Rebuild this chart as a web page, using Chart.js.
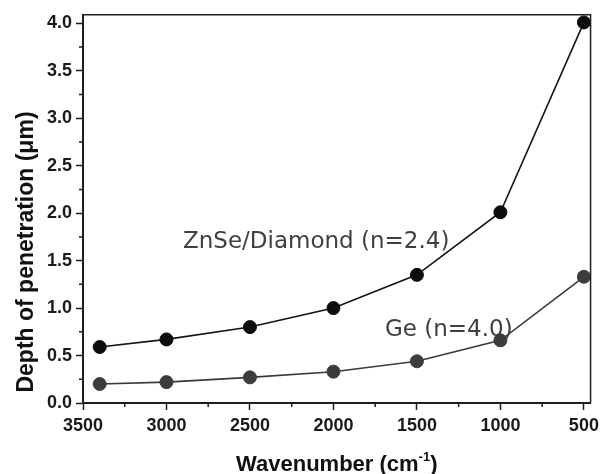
<!DOCTYPE html>
<html>
<head>
<meta charset="UTF-8">
<title>Depth of penetration</title>
<script src="https://cdn.jsdelivr.net/npm/chart.js"></script>
<style>
  html, body { margin: 0; padding: 0; background: #fff; }
  canvas { display: block; }
</style>
</head>
<body>
<canvas id="chart" width="604" height="474"></canvas>
<script>
  // values
  const wavenumbers = [3400, 3000, 2500, 2000, 1500, 1000, 500];
  const znseDepth = [0.59, 0.67, 0.80, 1.00, 1.35, 2.01, 4.01];
  const geDepth = [0.20, 0.22, 0.27, 0.33, 0.44, 0.66, 1.33];
  const seriesNames = ["ZnSe/Diamond (n=2.4)", "Ge (n=4.0)"];

  const xTicks = [3500, 3000, 2500, 2000, 1500, 1000, 500];
  const xMinorTicks = [3250, 2750, 2250, 1750, 1250, 750];
  const yTicks = [0, 0.5, 1, 1.5, 2, 2.5, 3, 3.5, 4];
  const yMinorTicks = [0.25, 0.75, 1.25, 1.75, 2.25, 2.75, 3.25, 3.75];

  const xTitle = "Wavenumber (cm";
  const yTitle = "Depth of penetration (\u03BCm)";

  const axisColor = "#1e1e1e";
  const tickFont = { family: "'Liberation Sans', Arial, sans-serif", size: 18, weight: "bold" };

  // frame, minor ticks, series labels and axis titles
  const decorations = {
    id: "decorations",
    beforeDatasetsDraw(chart) {
      const ctx = chart.ctx;
      ctx.save();
      ctx.fillStyle = "#404040";
      ctx.font = "23px 'DejaVu Sans'";
      ctx.textBaseline = "middle";
      ctx.textAlign = "left";
      ctx.fillText(seriesNames[0], 183, 242);
      ctx.fillText(seriesNames[1], 385, 330);
      ctx.restore();
    },
    afterDraw(chart) {
      const { ctx, chartArea: a, scales: { x, y } } = chart;
      ctx.save();
      ctx.strokeStyle = axisColor;
      ctx.lineWidth = 1.5;
      ctx.beginPath();
      ctx.moveTo(a.left, a.top);
      ctx.lineTo(a.right, a.top);
      ctx.lineTo(a.right, a.bottom);
      ctx.stroke();

      ctx.beginPath();
      xMinorTicks.forEach(v => {
        const px = x.getPixelForValue(v);
        ctx.moveTo(px, a.bottom);
        ctx.lineTo(px, a.bottom + 4);
      });
      yMinorTicks.forEach(v => {
        const py = y.getPixelForValue(v);
        ctx.moveTo(a.left, py);
        ctx.lineTo(a.left - 4, py);
      });
      ctx.stroke();

      ctx.fillStyle = "#111";
      // y title
      ctx.save();
      ctx.translate(33, 252);
      ctx.rotate(-Math.PI / 2);
      ctx.font = "bold 23px 'Liberation Sans', Arial, sans-serif";
      ctx.textAlign = "center";
      ctx.textBaseline = "alphabetic";
      ctx.fillText(yTitle, 0, 0);
      ctx.restore();

      // x title with superscript
      const mainFont = "bold 22px 'Liberation Sans', Arial, sans-serif";
      const supFont = "bold 13px 'Liberation Sans', Arial, sans-serif";
      ctx.font = mainFont;
      const w1 = ctx.measureText(xTitle).width;
      const w3 = ctx.measureText(")").width;
      ctx.font = supFont;
      const w2 = ctx.measureText("-1").width;
      const total = w1 + w2 + w3;
      let cx = (a.left + a.right) / 2 - total / 2;
      const base = 471;
      ctx.textAlign = "left";
      ctx.textBaseline = "alphabetic";
      ctx.font = mainFont;
      ctx.fillText(xTitle, cx, base);
      cx += w1;
      ctx.font = supFont;
      ctx.fillText("-1", cx, base - 10);
      cx += w2;
      ctx.font = mainFont;
      ctx.fillText(")", cx, base);
      ctx.restore();
    }
  };

  new Chart(document.getElementById("chart"), {
    type: "line",
    data: {
      datasets: [
        {
          label: seriesNames[0],
          data: wavenumbers.map((w, i) => ({ x: w, y: znseDepth[i] })),
          borderColor: "#141414",
          backgroundColor: "#0c0c0c",
          pointBackgroundColor: "#0c0c0c",
          pointBorderColor: "#0c0c0c",
          borderWidth: 1.6,
          pointRadius: 6.5,
          pointBorderWidth: 1,
          tension: 0
        },
        {
          label: seriesNames[1],
          data: wavenumbers.map((w, i) => ({ x: w, y: geDepth[i] })),
          borderColor: "#3a3a3a",
          backgroundColor: "#3a3a3a",
          pointBackgroundColor: "#3c3c3c",
          pointBorderColor: "#3c3c3c",
          borderWidth: 1.6,
          pointRadius: 6.5,
          pointBorderWidth: 1,
          tension: 0
        }
      ]
    },
    options: {
      responsive: false,
      animation: false,
      clip: false,
      layout: { padding: { left: 0, right: 6, top: 13, bottom: 0 } },
      plugins: {
        legend: { display: false },
        tooltip: { enabled: false }
      },
      scales: {
        x: {
          type: "linear",
          reverse: true,
          min: 460,
          max: 3500,
          afterBuildTicks: s => { s.ticks = xTicks.map(v => ({ value: v })); },
          afterFit: s => { s.height = 71; },
          grid: { drawOnChartArea: false, tickLength: 7, tickColor: axisColor, tickWidth: 1.5 },
          border: { display: true, color: axisColor, width: 2 },
          ticks: {
            font: tickFont,
            color: "#1a1a1a",
            padding: 5,
            maxRotation: 0,
            callback: v => String(v)
          }
        },
        y: {
          type: "linear",
          min: 0,
          max: 4.09,
          afterBuildTicks: s => { s.ticks = yTicks.map(v => ({ value: v })); },
          afterFit: s => { s.width = 83; },
          grid: { drawOnChartArea: false, tickLength: 7, tickColor: axisColor, tickWidth: 1.5 },
          border: { display: true, color: axisColor, width: 2 },
          ticks: {
            font: tickFont,
            color: "#1a1a1a",
            padding: 4,
            callback: v => v.toFixed(1)
          }
        }
      }
    },
    plugins: [decorations]
  });
</script>
</body>
</html>
